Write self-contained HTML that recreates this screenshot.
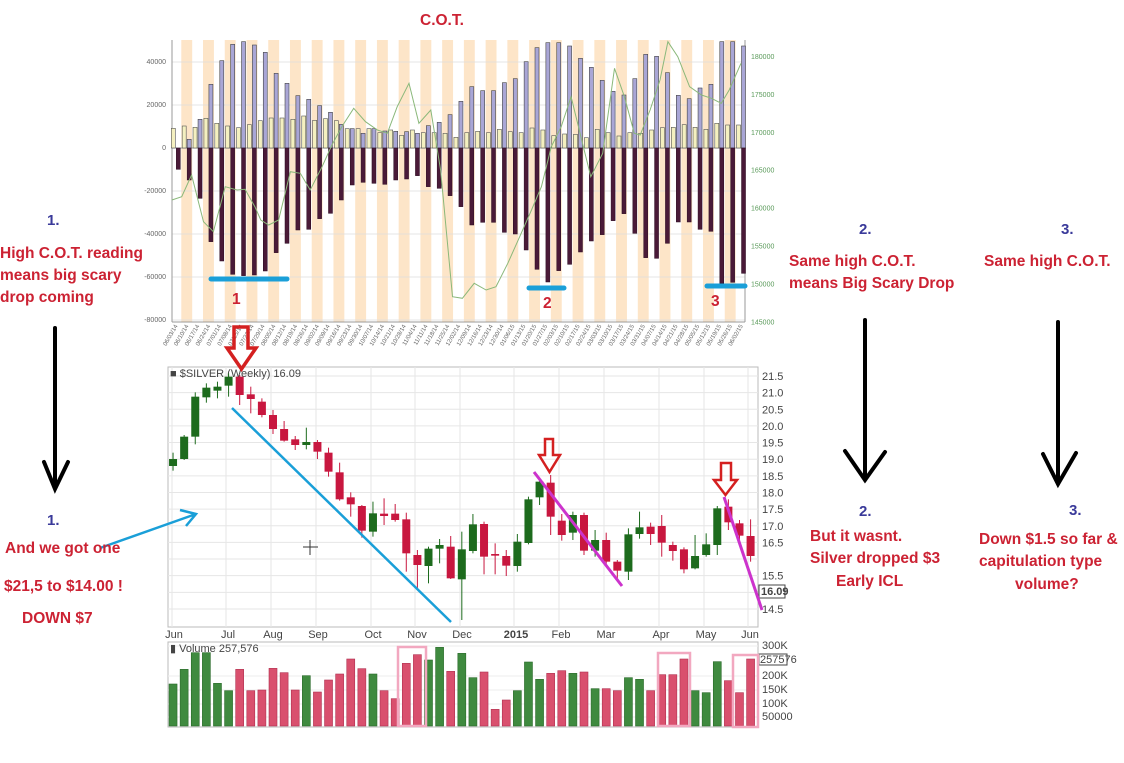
<!DOCTYPE html>
<html><head><meta charset="utf-8"><style>
html,body{margin:0;padding:0;background:#fff;width:1124px;height:763px;overflow:hidden}
svg{display:block}
.an{font-family:"Liberation Sans",sans-serif;font-weight:bold;font-size:15.5px;fill:#cc2233}
.bl{font-family:"Liberation Sans",sans-serif;font-weight:bold;font-size:15px;fill:#3a3a9a}
.ax{font-family:"Liberation Sans",sans-serif;font-size:7px;fill:#666}
.px{font-family:"Liberation Sans",sans-serif;font-size:11px;fill:#444}
</style></head><body>
<svg id="s" width="1124" height="763" xmlns="http://www.w3.org/2000/svg">
<g id="gtop"></g>
<g id="gbot"></g>
<text class="an" x="420" y="25">C.O.T.</text>
<text class="bl" x="47" y="225">1.</text>
<text class="an" x="0" y="258">High C.O.T. reading</text>
<text class="an" x="0" y="280">means big scary</text>
<text class="an" x="0" y="302">drop coming</text>
<text class="bl" x="47" y="525">1.</text>
<text class="an" x="5" y="553">And we got one</text>
<text class="an" x="4" y="591">$21,5 to $14.00 !</text>
<text class="an" x="22" y="623">DOWN $7</text>
<text class="bl" x="859" y="234">2.</text>
<text class="an" x="789" y="266">Same high C.O.T.</text>
<text class="an" x="789" y="288">means Big Scary Drop</text>
<text class="bl" x="1061" y="234">3.</text>
<text class="an" x="984" y="266">Same high C.O.T.</text>
<text class="bl" x="859" y="516">2.</text>
<text class="an" x="810" y="541">But it wasnt.</text>
<text class="an" x="810" y="563">Silver dropped $3</text>
<text class="an" x="836" y="586">Early ICL</text>
<text class="bl" x="1069" y="515">3.</text>
<text class="an" x="979" y="544">Down $1.5 so far &amp;</text>
<text class="an" x="979" y="566">capitulation type</text>
<text class="an" x="1015" y="589">volume?</text>
<g stroke="#000" stroke-width="4" fill="none" stroke-linecap="round">
<path d="M55 328V488M44 462L55 489L68 462"/>
<path d="M865 320V480M845 451L865 480L885 452"/>
<path d="M1058 322V484M1043 454L1058 484L1076 453"/>
</g>
</svg>
<script>
(function(){
const NS="http://www.w3.org/2000/svg";
function el(p,t,a,txt){const e=document.createElementNS(NS,t);for(const k in a)e.setAttribute(k,a[k]);if(txt!==undefined)e.textContent=txt;p.appendChild(e);return e;}
const gTop=document.getElementById('gtop'),gBot=document.getElementById('gbot');
const L=172,R=745,T=40,B=322;
const zx=i=>160+(40+i*27.5)/2.53;
const zy=v=>30+v/3;
el(gTop,'rect',{x:L,y:T,width:R-L,height:B-T,fill:'#fff'});
for(let i=0;i<53;i++){ if(i%2==1){const x=zx(i)-5.4;el(gTop,'rect',{x:x,y:T,width:10.9,height:B-T,fill:'#fde5c8'});} }
const lab=['40000','20000','0','-20000','-40000','-60000','-80000'];
for(let k=0;k<7;k++){const yy=62+k*43;
 el(gTop,'line',{x1:L,x2:R,y1:yy,y2:yy,stroke:'#ddd','stroke-width':0.7});
 el(gTop,'text',{x:L-6,y:yy+2,'text-anchor':'end',class:'ax'},lab[k]);}
el(gTop,'line',{x1:L,x2:R,y1:148,y2:148,stroke:'#999','stroke-width':1});
el(gTop,'line',{x1:L,x2:L,y1:T,y2:B,stroke:'#999'});
el(gTop,'line',{x1:L,x2:R,y1:B,y2:B,stroke:'#999'});
el(gTop,'line',{x1:R,x2:R,y1:T,y2:B,stroke:'#999'});
const rl=['180000','175000','170000','165000','160000','155000','150000','145000'];
for(let k=0;k<8;k++){const yy=57+k*37.9;el(gTop,'text',{x:R+6,y:yy+2,class:'ax',style:'fill:#5a9a5a'},rl[k]);}
const longT=[null,328,268,163,92,43,35,45,67,130,160,197,208,227,247,283,296,310,296,303,304,305,310,287,277,254,214,170,182,182,158,146,95,53,38,38,48,85,112,151,184,195,146,73,79,128,196,206,174,163,35,35,48];
const yel=[295,288,292,265,280,288,293,284,272,264,264,268,258,271,266,272,296,296,296,308,300,316,300,308,308,310,322,308,304,308,298,305,308,294,300,317,312,313,323,298,308,318,308,310,300,293,292,284,292,298,280,285,285];
const shortB=[418,450,505,635,693,733,737,735,723,668,640,600,598,566,550,510,465,457,460,463,450,447,437,470,475,497,530,585,577,577,607,612,660,718,756,722,703,666,633,614,572,551,610,683,685,640,576,576,598,604,760,757,730];
const dates=['06/03/14','06/10/14','06/17/14','06/24/14','07/01/14','07/08/14','07/15/14','07/22/14','07/29/14','08/05/14','08/12/14','08/19/14','08/26/14','09/02/14','09/09/14','09/16/14','09/23/14','09/30/14','10/07/14','10/14/14','10/21/14','10/28/14','11/04/14','11/11/14','11/18/14','11/25/14','12/02/14','12/09/14','12/16/14','12/23/14','12/30/14','01/06/15','01/13/15','01/20/15','01/27/15','02/03/15','02/10/15','02/17/15','02/24/15','03/03/15','03/10/15','03/17/15','03/24/15','03/31/15','04/07/15','04/14/15','04/21/15','04/28/15','05/05/15','05/12/15','05/19/15','05/26/15','06/02/15'];
for(let i=0;i<53;i++){const x=zx(i);
 el(gTop,'rect',{x:x-4.5,y:zy(yel[i]),width:4,height:148-zy(yel[i]),fill:'#f4f0c0',stroke:'#555','stroke-width':0.6});
 if(longT[i]!==null){const t=Math.max(zy(longT[i]),T);el(gTop,'rect',{x:x+0.5,y:t,width:4,height:148-t,fill:'#a9a6d6',stroke:'#444','stroke-width':0.6});}
 const b=zy(shortB[i]);el(gTop,'rect',{x:x+0.5,y:148,width:4,height:b-148,fill:'#4a1a38',stroke:'#2a0a20','stroke-width':0.5});
 el(gTop,'text',{x:x+2,y:326,class:'ax','text-anchor':'end',transform:'rotate(-60 '+(x+2)+' 326)',style:'font-size:6px'},dates[i]);
}
const gl=[[30,510],[55,500],[80,435],[110,575],[135,605],[165,470],[195,480],[215,478],[240,530],[255,570],[275,585],[300,570],[330,425],[355,430],[380,480],[410,410],[435,345],[460,290],[490,235],[520,275],[550,300],[575,310],[600,230],[630,160],[655,280],[685,240],[710,420],[740,800],[765,805],[795,760],[825,780],[850,770],[880,700],[910,620],[940,540],[965,470],[990,350],[1015,290],[1040,200],[1065,320],[1090,440],[1120,370],[1150,115],[1175,200],[1200,310],[1215,315],[1240,240],[1265,150],[1285,35],[1310,80],[1340,170],[1370,195],[1395,205],[1420,220],[1440,180],[1470,100]];
el(gTop,'polyline',{points:gl.map(p=>(160+p[0]/2.53).toFixed(1)+','+zy(p[1]).toFixed(1)).join(' '),fill:'none',stroke:'#8ab87a','stroke-width':1});
el(gTop,'line',{x1:211,x2:287,y1:279,y2:279,stroke:'#1a9fd8','stroke-width':5,'stroke-linecap':'round'});
el(gTop,'line',{x1:529,x2:564,y1:288,y2:288,stroke:'#1a9fd8','stroke-width':5,'stroke-linecap':'round'});
el(gTop,'line',{x1:707,x2:745,y1:286,y2:286,stroke:'#1a9fd8','stroke-width':5,'stroke-linecap':'round'});
el(gTop,'text',{x:232,y:304,class:'an'},'1');
el(gTop,'text',{x:543,y:308,class:'an'},'2');
el(gTop,'text',{x:711,y:306,class:'an'},'3');
// bottom
const PL=168,PR=758,PT=367,PB=627;
el(gBot,'rect',{x:PL,y:PT,width:PR-PL,height:PB-PT,fill:'#fff',stroke:'#bbb'});
const py=p=>376+(21.5-p)/0.5*16.64;
for(let k=0;k<15;k++){const p=21.5-k*0.5,y=py(p);
 el(gBot,'line',{x1:PL,x2:PR,y1:y,y2:y,stroke:'#e6e6e6'});
 if(p>15.9 && p<16.1) continue;
 el(gBot,'text',{x:PR+4,y:y+4,class:'px','font-size':'10'},p.toFixed(1));}
el(gBot,'rect',{x:PR+1,y:585,width:26,height:13,fill:'#fff',stroke:'#444'});
el(gBot,'text',{x:PR+3,y:595,class:'px','font-weight':'bold'},'16.09');
const months=[['Jun',174],['Jul',228],['Aug',273],['Sep',318],['Oct',373],['Nov',417],['Dec',462],['2015',516],['Feb',561],['Mar',606],['Apr',661],['May',706],['Jun',750]];
months.forEach(m=>{el(gBot,'line',{x1:m[1]-2,x2:m[1]-2,y1:PT,y2:PB,stroke:'#e6e6e6'});
 el(gBot,'text',{x:m[1],y:638,class:'px','text-anchor':'middle','font-weight':m[0]=='2015'?'bold':'normal'},m[0]);});
el(gBot,'text',{x:170,y:377,class:'px'},'\u25a0 $SILVER (Weekly) 16.09');
const C=[[297,318,278,332,'G'],[230,297,225,300,'G'],[110,230,97,253,'G'],[83,112,70,128,'G'],[80,92,65,115,'G'],[50,77,40,110,'G'],[50,105,45,135,'R'],[103,117,80,160,'R'],[125,165,115,172,'R'],[165,207,150,222,'R'],[207,242,183,245,'R'],[238,255,228,270,'R'],[246,255,203,268,'G'],[246,275,240,297,'R'],[278,335,263,350,'R'],[337,418,308,422,'R'],[412,433,397,470,'R'],[438,512,435,533,'R'],[460,515,425,530,'G'],[461,468,415,495,'R'],[461,480,432,485,'R'],[478,580,458,635,'R'],[585,615,570,690,'R'],[566,618,560,670,'G'],[555,566,537,610,'G'],[560,655,528,657,'R'],[568,658,515,780,'G'],[493,573,462,580,'G'],[492,590,485,643,'R'],[582,587,550,643,'R'],[588,617,570,648,'R'],[545,618,522,635,'G'],[418,549,410,553,'G'],[365,412,355,435,'G'],[368,470,345,525,'R'],[482,525,462,542,'R'],[465,518,455,540,'G'],[465,572,458,585,'R'],[540,572,510,590,'G'],[540,605,518,615,'R'],[605,632,600,660,'R'],[523,635,505,660,'G'],[502,522,455,536,'G'],[500,522,488,555,'R'],[498,548,465,590,'R'],[555,573,545,602,'R'],[568,628,562,640,'R'],[588,625,525,628,'G'],[553,585,520,590,'G'],[445,555,438,585,'G'],[440,487,418,510,'R'],[490,527,480,545,'R'],[528,588,478,605,'R']];
const cx=i=>160+(33+i*28.1)/2.53;
const by=v=>360+v/3;
C.forEach((c,i)=>{const x=cx(i),col=c[4]=='G'?'#1d6b1d':'#c8173f';
 el(gBot,'line',{x1:x,x2:x,y1:by(c[2]),y2:by(c[3]),stroke:col,'stroke-width':1});
 el(gBot,'rect',{x:x-4,y:by(c[0]),width:8,height:Math.max(1.5,by(c[1])-by(c[0])),fill:col});});
const VT=642,VB=727;
el(gBot,'rect',{x:PL,y:VT,width:PR-PL,height:VB-VT,fill:'#fff',stroke:'#bbb'});
[[646,'300K'],[676,'200K'],[690,'150K'],[704,'100K'],[717,'50000']].forEach(v=>{el(gBot,'line',{x1:PL,x2:PR,y1:v[0],y2:v[0],stroke:'#eee'});el(gBot,'text',{x:PR+4,y:v[0]+3,class:'px','font-size':'9'},v[1]);});
el(gBot,'rect',{x:PR+1,y:654,width:28,height:11,fill:'#fff',stroke:'#444'});
el(gBot,'text',{x:PR+2,y:663,class:'px','font-size':'9'},'257576');
const V=[[972,'G'],[928,'G'],[878,'G'],[878,'G'],[970,'G'],[992,'G'],[928,'R'],[992,'R'],[990,'R'],[925,'R'],[938,'R'],[990,'R'],[947,'G'],[996,'R'],[960,'R'],[942,'R'],[897,'R'],[926,'R'],[942,'G'],[992,'R'],[1016,'R'],[910,'R'],[884,'R'],[900,'G'],[862,'G'],[934,'R'],[880,'G'],[953,'G'],[936,'R'],[1048,'R'],[1020,'R'],[992,'G'],[906,'G'],[958,'G'],[940,'R'],[932,'R'],[940,'G'],[936,'R'],[986,'G'],[986,'R'],[992,'R'],[953,'G'],[958,'G'],[992,'R'],[944,'R'],[944,'R'],[897,'R'],[992,'G'],[998,'G'],[905,'G'],[962,'R'],[998,'R'],[897,'R']];
V.forEach((v,i)=>{const x=cx(i),col=v[1]=='G'?'#3f8a3f':'#d9506e';const t=by(v[0]);
 el(gBot,'rect',{x:x-4,y:t,width:8,height:VB-1-t,fill:col,stroke:v[1]=='G'?'#2a6a2a':'#b03050','stroke-width':0.6});});
el(gBot,'text',{x:170,y:652,class:'px','font-size':'10'},'\u25ae Volume 257,576');
[[398,647,28,79],[658,653,32,73],[733,655,25,72]].forEach(b=>el(gBot,'rect',{x:b[0],y:b[1],width:b[2],height:b[3],fill:'none',stroke:'#f2a8c0','stroke-width':2.5}));
el(gBot,'line',{x1:232,y1:408,x2:451,y2:622,stroke:'#1a9fd8','stroke-width':2.5});
el(gBot,'line',{x1:534,y1:472,x2:622,y2:586,stroke:'#cc33cc','stroke-width':3});
el(gBot,'line',{x1:724,y1:497,x2:762,y2:610,stroke:'#cc33cc','stroke-width':3});
el(gBot,'path',{d:'M100 548L196 514M180 510L196 514L186 526',stroke:'#1a9fd8','stroke-width':2.5,fill:'none'});
el(gBot,'path',{d:'M303 547H318M310 540V555',stroke:'#333','stroke-width':1,fill:'none'});
function redArrow(x1,x2,yt,yh,hx1,hx2,tip,w){el(gBot,'path',{d:'M'+x1+' '+yt+'H'+x2+'V'+yh+'H'+hx2+'L'+((hx1+hx2)/2)+' '+tip+'L'+hx1+' '+yh+'H'+x1+'Z',fill:'none',stroke:'#d42020','stroke-width':w});}
redArrow(234,248,327,348,227,256,369,3.5);
redArrow(545,553,439,455,539,560,472,2.5);
redArrow(721,731,463,480,714,737,495,2.5);
})();
</script>
</body></html>
